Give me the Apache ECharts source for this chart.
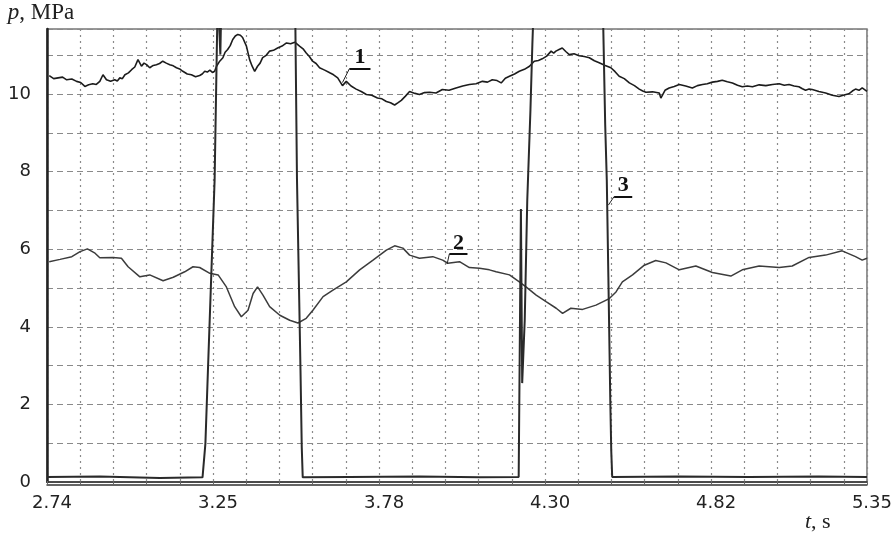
<!DOCTYPE html>
<html>
<head>
<meta charset="utf-8">
<script src="https://cdn.jsdelivr.net/npm/echarts@6/dist/echarts.min.js"></script>
<style>
  html, body { margin: 0; padding: 0; background: #ffffff; }
  #chart { width: 895px; height: 534px; }
</style>
</head>
<body>
<div id="chart"></div>
<script>
// ---------------- data ----------------
// time axis, seconds
const T_MIN = 2.74;
const T_MAX = 5.318;          // right frame edge of the record
const DIV_STEP = 0.1044;      // one grid division, s (5 divisions per labelled step)
// labelled time ticks (the last label is printed at the frame's right edge)
const tickTimes  = [2.74, 3.262, 3.784, 4.306, 4.828, 5.318];
const tickLabels = ['2.74', '3.25', '3.78', '4.30', '4.82', '5.35'];
// pressure axis, MPa
const P_MIN = 0;
const P_MAX = 11.68;

// curve 1 (noisy trace)
const curve1T = [2.747,2.761,2.775,2.789,2.802,2.818,2.833,2.846,2.859,2.871,2.884,2.895,2.906,2.916,2.927,2.940,2.953,2.961,2.969,2.977,2.985,2.996,3.006,3.016,3.026,3.037,3.045,3.053,3.063,3.074,3.084,3.094,3.104,3.115,3.126,3.137,3.147,3.157,3.167,3.181,3.194,3.207,3.220,3.228,3.236,3.244,3.252,3.260,3.267,3.273,3.283,3.293,3.300,3.308,3.316,3.324,3.332,3.340,3.348,3.355,3.367,3.377,3.385,3.393,3.402,3.410,3.418,3.429,3.440,3.452,3.465,3.479,3.493,3.506,3.519,3.534,3.545,3.555,3.565,3.575,3.586,3.597,3.613,3.629,3.641,3.654,3.669,3.681,3.696,3.712,3.728,3.744,3.761,3.779,3.793,3.807,3.820,3.833,3.844,3.854,3.867,3.880,3.885,3.897,3.911,3.927,3.943,3.963,3.983,4.004,4.026,4.047,4.068,4.089,4.109,4.125,4.140,4.155,4.168,4.181,4.194,4.210,4.225,4.241,4.257,4.272,4.285,4.297,4.311,4.325,4.333,4.340,4.350,4.360,4.371,4.382,4.397,4.413,4.429,4.445,4.461,4.476,4.495,4.513,4.526,4.539,4.555,4.571,4.587,4.602,4.613,4.623,4.644,4.665,4.670,4.683,4.696,4.712,4.728,4.748,4.769,4.785,4.801,4.816,4.832,4.848,4.863,4.879,4.895,4.911,4.926,4.942,4.958,4.979,5.000,5.021,5.042,5.058,5.073,5.089,5.104,5.115,5.125,5.136,5.146,5.167,5.188,5.209,5.230,5.246,5.261,5.272,5.282,5.293,5.303,5.318];
const curve1P = [10.48,10.40,10.42,10.44,10.37,10.39,10.33,10.30,10.20,10.24,10.27,10.25,10.33,10.50,10.37,10.33,10.37,10.34,10.42,10.40,10.50,10.55,10.63,10.70,10.89,10.72,10.80,10.76,10.68,10.74,10.76,10.79,10.85,10.80,10.76,10.73,10.68,10.65,10.59,10.52,10.50,10.45,10.48,10.52,10.59,10.57,10.62,10.56,10.59,10.72,10.85,10.94,11.08,11.15,11.25,11.41,11.50,11.54,11.52,11.46,11.24,10.89,10.72,10.59,10.72,10.80,10.94,11.00,11.11,11.13,11.19,11.24,11.32,11.30,11.34,11.24,11.17,11.06,10.97,10.85,10.79,10.68,10.62,10.55,10.50,10.42,10.22,10.33,10.21,10.13,10.07,9.99,9.97,9.90,9.88,9.81,9.78,9.72,9.78,9.84,9.95,10.07,10.12,10.02,9.99,10.04,10.05,10.03,10.12,10.10,10.16,10.21,10.25,10.27,10.33,10.31,10.37,10.35,10.29,10.41,10.46,10.52,10.59,10.64,10.72,10.85,10.87,10.91,10.98,11.11,11.06,11.11,11.15,11.19,11.10,11.02,11.04,10.99,10.97,10.94,10.86,10.81,10.74,10.68,10.58,10.46,10.40,10.29,10.22,10.13,10.08,10.05,10.06,10.03,9.90,10.10,10.16,10.20,10.25,10.21,10.16,10.22,10.25,10.27,10.31,10.33,10.36,10.32,10.29,10.23,10.19,10.21,10.19,10.24,10.22,10.25,10.27,10.23,10.25,10.21,10.19,10.14,10.10,10.13,10.12,10.07,10.03,9.97,9.94,9.98,10.01,10.08,10.13,10.10,10.16,10.07];

// curve 2
const curve2T = [2.747,2.781,2.818,2.844,2.867,2.891,2.906,2.948,2.974,2.995,3.032,3.063,3.105,3.137,3.173,3.199,3.220,3.252,3.278,3.304,3.330,3.351,3.372,3.388,3.402,3.419,3.440,3.472,3.503,3.529,3.555,3.576,3.608,3.639,3.681,3.723,3.765,3.807,3.833,3.859,3.880,3.911,3.953,3.984,4.000,4.037,4.068,4.100,4.131,4.152,4.194,4.225,4.246,4.278,4.309,4.341,4.361,4.387,4.424,4.466,4.508,4.529,4.549,4.581,4.618,4.654,4.686,4.728,4.780,4.832,4.890,4.926,4.979,5.042,5.083,5.136,5.188,5.240,5.282,5.303,5.318];
const curve2P = [5.68,5.74,5.81,5.94,6.01,5.90,5.78,5.79,5.77,5.55,5.29,5.34,5.19,5.28,5.42,5.55,5.53,5.38,5.34,5.03,4.52,4.26,4.43,4.86,5.03,4.82,4.52,4.30,4.17,4.10,4.22,4.43,4.78,4.95,5.16,5.47,5.72,5.98,6.09,6.03,5.85,5.77,5.81,5.72,5.64,5.68,5.53,5.51,5.47,5.42,5.34,5.16,5.03,4.82,4.65,4.48,4.35,4.48,4.45,4.56,4.73,4.90,5.16,5.34,5.59,5.71,5.65,5.47,5.57,5.40,5.31,5.47,5.57,5.53,5.57,5.79,5.85,5.96,5.81,5.72,5.77];

// curve 3 (goes off the top of the scale during the two pulses)
const curve3T = [2.740,2.906,3.095,3.229,3.238,3.246,3.267,3.275,3.278,3.285,3.289,3.400,3.520,3.521,3.526,3.533,3.537,3.541,3.544,3.691,3.911,4.100,4.223,4.230,4.234,4.242,4.250,4.260,4.266,4.272,4.380,4.487,4.489,4.495,4.500,4.505,4.511,4.514,4.517,4.727,4.947,5.167,5.318];
const curve3P = [0.13,0.14,0.10,0.12,0.99,2.88,7.79,11.69,12.44,11.02,12.70,12.70,12.70,11.69,7.79,4.69,2.88,0.89,0.12,0.13,0.14,0.12,0.13,7.04,2.55,4.17,7.27,9.60,11.28,12.70,12.70,12.70,11.69,9.21,7.79,5.28,2.11,0.81,0.13,0.14,0.13,0.14,0.13];

// curve labels: [point on curve] -> [start of underline] -> [end of underline]
const label1 = { text: '1', t: [3.669, 3.691, 3.757], p: [10.30, 10.66, 10.66] };
const label2 = { text: '2', t: [3.998, 4.005, 4.062], p: [5.62, 5.88, 5.88] };
const label3 = { text: '3', t: [4.505, 4.523, 4.580], p: [7.14, 7.36, 7.36] };

// ---------------- chart ----------------
const zip = (a, b) => a.map((v, i) => [v, b[i]]);

function calloutLines(lb) {
  return [
    [ { coord: [lb.t[0], lb.p[0]] }, { coord: [lb.t[1], lb.p[1]] } ],
    [ { coord: [lb.t[1], lb.p[1]],
        lineStyle: { width: 2, color: '#111' },
        label: {
          show: true, position: 'insideMiddleTop', formatter: lb.text, distance: 0,
          fontFamily: 'Liberation Serif', fontWeight: 'bold', fontSize: 22, color: '#111'
        } },
      { coord: [lb.t[2], lb.p[2]] } ]
  ];
}

function lineSeries(name, t, p, color, width, lb) {
  return {
    name: name, type: 'line', xAxisIndex: 0, yAxisIndex: 0,
    data: zip(t, p), showSymbol: false, symbol: 'none', clip: true,
    lineStyle: { color: color, width: width },
    markLine: {
      silent: true, symbol: ['none', 'none'], animation: false,
      lineStyle: { type: 'solid', color: '#222', width: 1 },
      label: { show: false },
      data: calloutLines(lb)
    }
  };
}

const chart = echarts.init(document.getElementById('chart'), null, { renderer: 'canvas' });
const nearestTick = v => {
  let best = 0;
  tickTimes.forEach((tv, i) => { if (Math.abs(tv - v) < Math.abs(tickTimes[best] - v)) best = i; });
  return best;
};

chart.setOption({
  animation: false,
  backgroundColor: '#ffffff',
  grid: {
    left: 47, right: 27, top: 29, bottom: 52,
    show: true, borderColor: '#777', borderWidth: 1.5, backgroundColor: '#ffffff'
  },
  xAxis: [
    {
      type: 'value', min: T_MIN, max: T_MAX, position: 'bottom',
      name: '{i|t}{n|, s}', nameLocation: 'end', nameGap: -62,
      nameTextStyle: {
        padding: [80, 0, 0, 0],
        rich: {
          i: { fontFamily: 'Liberation Serif', fontStyle: 'italic', fontSize: 22, color: '#222' },
          n: { fontFamily: 'Liberation Serif', fontSize: 22, color: '#222' }
        }
      },
      axisLine: { show: true, onZero: false, lineStyle: { color: '#333', width: 1.5 } },
      axisTick: { show: false },
      splitLine: { show: false },
      axisLabel: {
        customValues: tickTimes,
        formatter: v => tickLabels[nearestTick(v)],
        fontFamily: 'DejaVu Sans', fontSize: 18, color: '#222',
        margin: 12, padding: [0, 0, 0, 10]
      }
    },
    {
      // grid divisions of the recorder screen
      type: 'value', min: 0, max: (T_MAX - T_MIN) / DIV_STEP, interval: 1,
      position: 'bottom', offset: 3,
      axisLine: { show: true, onZero: false, lineStyle: { color: '#333', width: 1.5 } },
      axisTick: { show: true, inside: true, length: 4, lineStyle: { color: '#666', width: 1 } },
      axisLabel: { show: false },
      splitLine: { show: true, lineStyle: { color: '#8a8a8a', width: 1.2, type: [2, 4] } }
    }
  ],
  yAxis: {
    type: 'value', min: P_MIN, max: P_MAX, interval: 1,
    name: '{i|p}{n|, MPa}', nameLocation: 'end', nameGap: 5,
    nameTextStyle: {
      padding: [0, 12, 0, 0],
      rich: {
        i: { fontFamily: 'Liberation Serif', fontStyle: 'italic', fontSize: 23, color: '#222' },
        n: { fontFamily: 'Liberation Serif', fontSize: 23, color: '#222' }
      }
    },
    axisLine: { show: true, lineStyle: { color: '#222', width: 2.5 } },
    axisTick: { show: false },
    axisLabel: {
      formatter: v => (Number.isInteger(v) && v % 2 === 0) ? String(v) : '',
      fontFamily: 'DejaVu Sans', fontSize: 18, color: '#222', margin: 16
    },
    splitLine: { show: true, lineStyle: { color: '#8a8a8a', width: 1.2, type: [6, 4] } }
  },
  series: [
    lineSeries('1', curve1T, curve1P, '#1c1c1c', 1.6, label1),
    lineSeries('2', curve2T, curve2P, '#3c3c3c', 1.5, label2),
    lineSeries('3', curve3T, curve3P, '#2a2a2a', 2, label3)
  ]
});
</script>
</body>
</html>
